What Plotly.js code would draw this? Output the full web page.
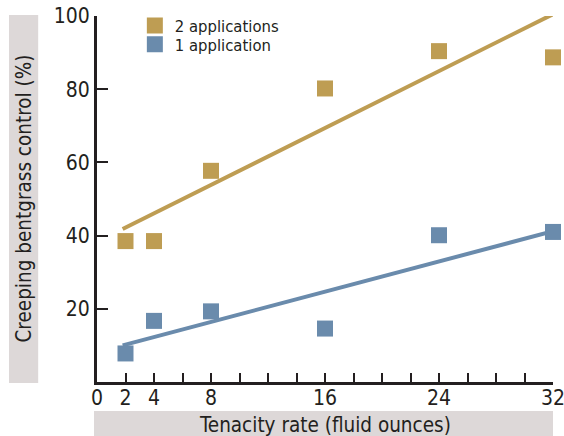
<!DOCTYPE html>
<html>
<head>
<meta charset="utf-8">
<script src="https://cdn.plot.ly/plotly-3.0.1.min.js"></script>
<style>html,body{margin:0;padding:0;background:#fff;}#chart{width:564px;height:436px;}</style>
</head>
<body>
<div id="chart"></div>
<script>
var rates = [2, 4, 8, 16, 24, 32];
var twoApplications = [38.5, 38.5, 57.7, 80.2, 90.4, 88.7];
var oneApplication = [7.8, 16.7, 19.3, 14.6, 40.1, 41.0];
var trendRates = [1.8, 32];
var twoTrend = [41.8, 100.5];
var oneTrend = [10.0, 41.2];
var xTickVals = [0, 2, 4, 6, 8, 10, 12, 14, 16, 18, 20, 22, 24, 26, 28, 30, 32];
var xTickText = ['0', '2', '4', '', '8', '', '', '', '16', '', '', '', '24', '', '', '', '32'];
var yTickVals = [20, 40, 60, 80, 100];
var seriesNames = ['2 applications', '1 application'];
var xTitle = 'Tenacity rate (fluid ounces)';
var yTitle = 'Creeping bentgrass control (%)';

var GOLD = '#BE9D53', BLUE = '#6A8BAC', INK = '#231F20', BAND = '#DDD8D8';
var FONT = '"DejaVu Sans Condensed", "Liberation Sans Narrow", "Liberation Sans", sans-serif';

var traces = [
  {x: trendRates, y: twoTrend, mode: 'lines', line: {color: GOLD, width: 4}, showlegend: false, hoverinfo: 'skip'},
  {x: trendRates, y: oneTrend, mode: 'lines', line: {color: BLUE, width: 4}, showlegend: false, hoverinfo: 'skip'},
  {x: rates, y: twoApplications, mode: 'markers', name: seriesNames[0], cliponaxis: false, legend: 'legend',
   marker: {symbol: 'square', size: 16, color: GOLD}},
  {x: rates, y: oneApplication, mode: 'markers', name: seriesNames[1], cliponaxis: false, legend: 'legend2',
   marker: {symbol: 'square', size: 16, color: BLUE}}
];

var legendFont = {size: 16.5, color: INK, family: FONT};
var layout = {
  width: 564, height: 436,
  margin: {l: 97, r: 11, t: 16, b: 54, autoexpand: false},
  paper_bgcolor: '#fff', plot_bgcolor: '#fff',
  font: {family: FONT, color: INK},
  showlegend: true,
  legend: {x: 0.083, y: 1.021, xanchor: 'left', yanchor: 'top', bgcolor: 'rgba(0,0,0,0)', font: legendFont},
  legend2: {x: 0.083, y: 0.97, xanchor: 'left', yanchor: 'top', bgcolor: 'rgba(0,0,0,0)', font: legendFont},
  xaxis: {range: [0, 32], showgrid: false, zeroline: false, showline: true, linecolor: INK, linewidth: 3,
          ticks: 'inside', ticklen: 9, tickwidth: 2, tickcolor: INK,
          tickmode: 'array', tickvals: xTickVals, ticktext: xTickText, ticklabeloverflow: 'allow',
          ticklabelstandoff: -5, automargin: false,
          tickfont: {size: 21, color: INK, family: FONT}, fixedrange: true},
  yaxis: {range: [0, 100], showgrid: false, zeroline: false, showline: true, linecolor: INK, linewidth: 3,
          ticks: 'inside', ticklen: 11, tickwidth: 2, tickcolor: INK, automargin: false,
          tickmode: 'array', tickvals: yTickVals, ticklabeloverflow: 'allow',
          tickfont: {size: 21, color: INK, family: FONT}, fixedrange: true},
  shapes: [
    {type: 'rect', xref: 'paper', yref: 'paper', x0: -0.0066, x1: 1.0, y0: -0.0792, y1: -0.16,
     fillcolor: BAND, line: {width: 0}, layer: 'below'},
    {type: 'rect', xref: 'paper', yref: 'paper', x0: -0.193, x1: -0.129, y0: -0.003, y1: 1.003,
     fillcolor: BAND, line: {width: 0}, layer: 'below'}
  ],
  annotations: [
    {text: xTitle, xref: 'paper', yref: 'paper', x: 0.5, y: -0.117, xanchor: 'center', yanchor: 'middle',
     showarrow: false, font: {size: 20.5, color: INK, family: FONT}},
    {text: yTitle, xref: 'paper', yref: 'paper', x: -0.161, y: 0.5, xanchor: 'center', yanchor: 'middle',
     textangle: -90, showarrow: false, font: {size: 20.5, color: INK, family: FONT}}
  ]
};

Plotly.newPlot('chart', traces, layout, {displayModeBar: false, staticPlot: true});
</script>
</body>
</html>
